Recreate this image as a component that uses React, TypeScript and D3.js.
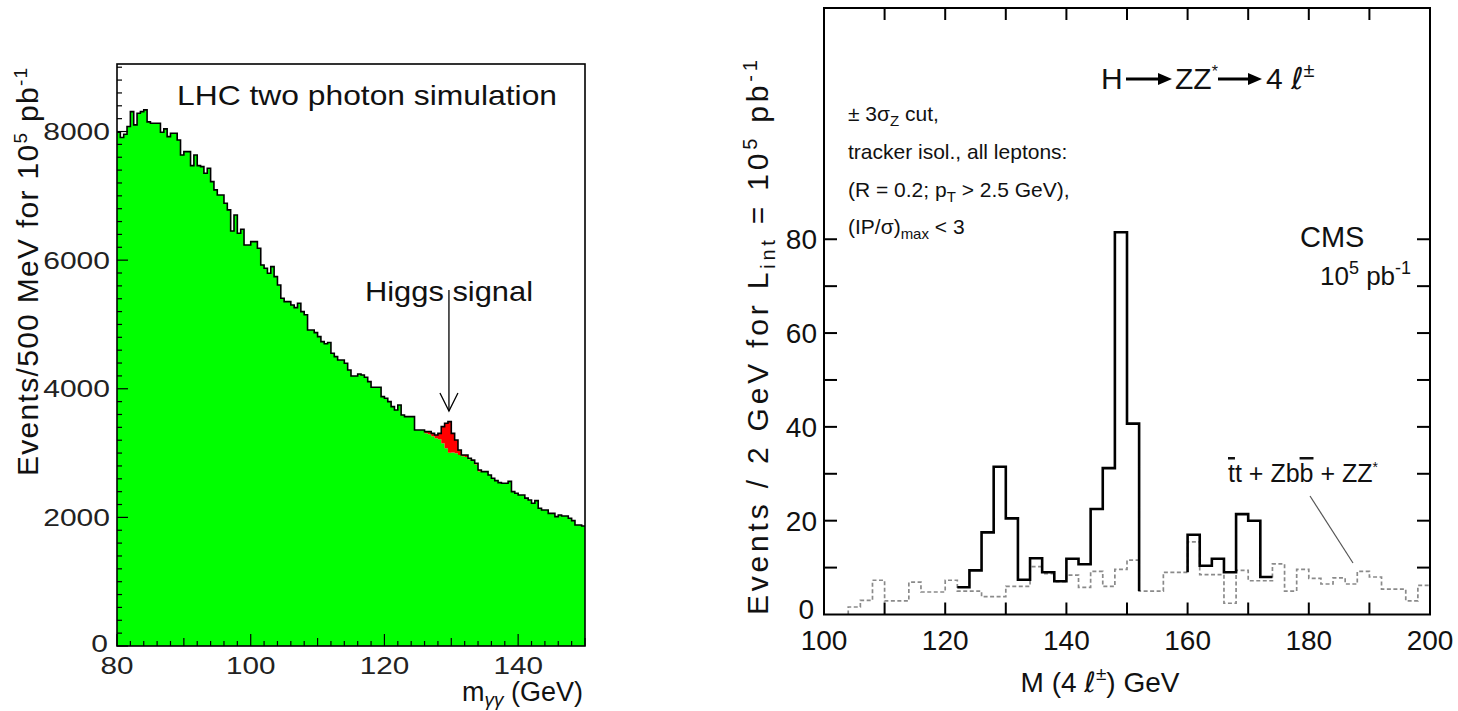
import React from "react";
import * as d3 from "d3";

const W = 1458;
const H = 711;

// ---------------- Left panel: LHC two photon simulation ----------------
const gammaMassRange: [number, number] = [80, 150];
const gammaBinWidth = 0.5;
// total events per 500 MeV bin (background + Higgs signal), bins from 80 GeV
const gammaEvents = [
  7990, 7906, 7958, 8077, 8310, 8103, 8284, 8310, 8336, 8150,
  8129, 8129, 8129, 7989, 8041, 7921, 7973, 7973, 7869, 7636,
  7688, 7688, 7470, 7636, 7470, 7454, 7351, 7429, 7221, 7092,
  7014, 7014, 6885, 6781, 6454, 6703, 6418, 6480, 6236, 6236,
  6288, 6288, 6185, 5925, 5873, 5796, 5899, 5744, 5614, 5407,
  5355, 5355, 5303, 5262, 5329, 5199, 5150, 4914, 4914, 4873,
  4811, 4733, 4700, 4720, 4552, 4500, 4448, 4448, 4396, 4292,
  4199, 4199, 4230, 4215, 4178, 4111, 4023, 4023, 4023, 3878,
  3852, 3800, 3722, 3670, 3748, 3593, 3567, 3567, 3567, 3359,
  3359, 3359, 3333, 3333, 3307, 3281, 3307, 3411, 3463, 3489,
  3307, 3204, 3048, 2970, 2970, 2919, 2890, 2841, 2737, 2711,
  2711, 2659, 2608, 2571, 2540, 2530, 2530, 2560, 2400, 2375,
  2348, 2348, 2300, 2271, 2219, 2260, 2141, 2115, 2115, 2063,
  2063, 2011, 2037, 2022, 2022, 1986, 1949, 1882, 1882, 1866,
];
const higgsSignalFirstBin = 92;
const higgsSignalEvents = [26, 40, 45, 50, 93, 259, 389, 483, 300, 208, 78, 20, 30, 15, 15, 20, 25];
const leftXTickLabels = [80, 100, 120, 140];
const leftYTickLabels = [0, 2000, 4000, 6000, 8000];
const higgsArrowMass = 129.65;

// ---------------- Right panel: H -> ZZ* -> 4 leptons ----------------
const zzMassRange: [number, number] = [100, 200];
const zzBinWidth = 2;
// tt + Zbb + ZZ* background per 2 GeV bin, bins from 100 GeV
const zzBackground = [
  0, 0, 1.6, 3.0, 7.3, 2.9, 2.9, 6.9, 4.8, 4.8,
  7.3, 5.0, 5.0, 3.8, 3.8, 6.0, 6.0, 10.2, 8.7, 7.0,
  8.4, 5.8, 9.2, 6.0, 9.6, 11.6, 5.0, 5.0, 9.0, 9.0,
  15.5, 8.5, 8.5, 2.4, 9.4, 7.2, 7.2, 10.8, 5.0, 9.6,
  7.7, 6.5, 7.8, 6.5, 9.2, 8.0, 5.4, 5.4, 2.9, 6.2,
];
const zzTotalLowStart = 122;
const zzTotalLow = [5.8, 9.4, 17.5, 31.5, 20.5, 7.4, 12.0, 9.0, 7.1, 11.9, 10.7, 22.5, 31.2, 81.5, 40.7];
const zzTotalHighStart = 160;
const zzTotalHigh = [17.0, 10.4, 11.9, 9.0, 21.4, 20.0, 8.0];
const rightXTickLabels = [100, 120, 140, 160, 180, 200];
const rightYTickLabels = [0, 20, 40, 60, 80];

const font = "'Liberation Sans', Arial, Helvetica, 'DejaVu Sans', sans-serif";

type P = [number, number];
function histPoints(start: number, width: number, values: number[]): P[] {
  const pts: P[] = values.map((v, i) => [start + i * width, v]);
  pts.push([start + values.length * width, values[values.length - 1]]);
  return pts;
}

function Arrow({ x1, x2, y }: { x1: number; x2: number; y: number }) {
  return (
    <g>
      <line x1={x1} x2={x2 - 10} y1={y} y2={y} stroke="#000" strokeWidth={3.2} />
      <polygon points={`${x2},${y} ${x2 - 14},${y - 6} ${x2 - 14},${y + 6}`} fill="#000" />
    </g>
  );
}

function LeftPanel() {
  const xL = d3.scaleLinear().domain(gammaMassRange).range([117, 585]);
  const yL = d3.scaleLinear().domain([0, 9050]).range([646, 64]);

  const signalAt = (i: number) => {
    const k = i - higgsSignalFirstBin;
    return k >= 0 && k < higgsSignalEvents.length ? higgsSignalEvents[k] : 0;
  };
  const bgValues = gammaEvents.map((v, i) => v - signalAt(i));

  const area = d3
    .area<P>()
    .x((d) => xL(d[0]))
    .y0(yL(0))
    .y1((d) => yL(d[1]))
    .curve(d3.curveStepAfter);
  const line = d3
    .line<P>()
    .x((d) => xL(d[0]))
    .y((d) => yL(d[1]))
    .curve(d3.curveStepAfter);

  type Q = [number, number, number];
  const redPts: Q[] = higgsSignalEvents.map((s, k) => {
    const i = higgsSignalFirstBin + k;
    return [gammaMassRange[0] + i * gammaBinWidth, bgValues[i], gammaEvents[i]];
  });
  const lastRed = higgsSignalFirstBin + higgsSignalEvents.length;
  redPts.push([gammaMassRange[0] + lastRed * gammaBinWidth, bgValues[lastRed - 1], gammaEvents[lastRed - 1]]);
  const redArea = d3
    .area<Q>()
    .x((d) => xL(d[0]))
    .y0((d) => yL(d[1]))
    .y1((d) => yL(d[2]))
    .curve(d3.curveStepAfter);

  const totalPts = histPoints(gammaMassRange[0], gammaBinWidth, gammaEvents);
  const bgPts = histPoints(gammaMassRange[0], gammaBinWidth, bgValues);

  const yMinor = d3.range(0, 9001, 200);
  const xMinor = d3.range(80, 150.01, 2);
  const ax = xL(higgsArrowMass);

  return (
    <g fontFamily={font}>
      <path d={area(bgPts) || ""} fill="#00ff00" />
      <path d={redArea(redPts) || ""} fill="#ff0000" />
      <path d={line(totalPts) || ""} fill="none" stroke="#000" strokeWidth={1.6} />
      <rect x={117} y={64} width={468} height={582} fill="none" stroke="#000" strokeWidth={1.6} />
      {yMinor.map((v) => (
        <line key={"ym" + v} x1={117} x2={117 + (v % 2000 === 0 ? 11 : 5)} y1={yL(v)} y2={yL(v)} stroke="#000" strokeWidth={1.2} />
      ))}
      {xMinor.map((v) => {
        const len = v % 20 === 0 ? 12 : v % 10 === 0 ? 8 : 5;
        return <line key={"xm" + v} x1={xL(v)} x2={xL(v)} y1={646} y2={646 - len} stroke="#000" strokeWidth={1.2} />;
      })}
      {leftYTickLabels.map((v) => (
        <text key={"yl" + v} x={v === 0 ? 108 : 110} y={yL(v) + (v === 0 ? 6 : 8.5)} fontSize={24} textAnchor="end" fill="#222"
          textLength={String(v).length * 16.7} lengthAdjust="spacingAndGlyphs">{v}</text>
      ))}
      {leftXTickLabels.map((v) => (
        <text key={"xl" + v} x={xL(v)} y={674} fontSize={24} textAnchor="middle" fill="#222"
          textLength={String(v).length * 16.5} lengthAdjust="spacingAndGlyphs">{v}</text>
      ))}
      <text x={177} y={105} fontSize={28} fill="#111" textLength={380} lengthAdjust="spacingAndGlyphs">LHC two photon simulation</text>
      <text x={365} y={301} fontSize={28} fill="#111" textLength={168} lengthAdjust="spacingAndGlyphs">Higgs signal</text>
      <line x1={ax} x2={ax} y1={290} y2={411} stroke="#000" strokeWidth={1.3} />
      <polyline points={`${ax - 9},${393} ${ax},${411} ${ax + 9},${393}`} fill="none" stroke="#000" strokeWidth={1.3} />
      <text transform="translate(38,476) rotate(-90)" fontSize={30} fill="#111" letterSpacing={1.3}>
        Events/500 MeV for 10<tspan dy={-11} fontSize={19}>5</tspan>
        <tspan dy={11}> pb</tspan>
        <tspan dy={-11} fontSize={19}>-1</tspan>
      </text>
      <text x={583} y={701} fontSize={27} textAnchor="end" fill="#111">
        m<tspan dy={5} fontSize={19} fontStyle="italic">γγ</tspan>
        <tspan dy={-5}> (GeV)</tspan>
      </text>
    </g>
  );
}

function RightPanel() {
  const xR = d3.scaleLinear().domain(zzMassRange).range([824, 1430]);
  const yR = d3.scaleLinear().domain([0, 129.3]).range([614.5, 8]);
  const line = d3
    .line<P>()
    .x((d) => xR(d[0]))
    .y((d) => yR(d[1]))
    .curve(d3.curveStepAfter);

  const bgIndex = (m: number) => Math.round((m - zzMassRange[0]) / zzBinWidth);
  const first = zzBackground.findIndex((v) => v > 0);
  const bgPts: P[] = [[zzMassRange[0] + first * zzBinWidth, 0], ...histPoints(zzMassRange[0] + first * zzBinWidth, zzBinWidth, zzBackground.slice(first))];

  const lowEnd = zzTotalLowStart + zzTotalLow.length * zzBinWidth;
  const lowPts: P[] = [...histPoints(zzTotalLowStart, zzBinWidth, zzTotalLow), [lowEnd, zzBackground[bgIndex(lowEnd)]]];
  const highPts: P[] = [[zzTotalHighStart, zzBackground[bgIndex(zzTotalHighStart) - 1]], ...histPoints(zzTotalHighStart, zzBinWidth, zzTotalHigh)];

  const xt = d3.range(110, 200, 10);
  const yt = d3.range(10, 81, 10);

  return (
    <g fontFamily={font}>
      <path d={line(bgPts) || ""} fill="none" stroke="#8a8a8a" strokeWidth={1.7} strokeDasharray="4 2.5" />
      <path d={line(lowPts) || ""} fill="none" stroke="#000" strokeWidth={2.6} />
      <path d={line(highPts) || ""} fill="none" stroke="#000" strokeWidth={2.6} />
      <rect x={824} y={8} width={606} height={606.5} fill="none" stroke="#000" strokeWidth={2} />
      {xt.map((v) => (
        <g key={"xt" + v}>
          <line x1={xR(v)} x2={xR(v)} y1={614.5} y2={602.5} stroke="#000" strokeWidth={2} />
          <line x1={xR(v)} x2={xR(v)} y1={8} y2={20} stroke="#000" strokeWidth={2} />
        </g>
      ))}
      {yt.map((v) => (
        <g key={"yt" + v}>
          <line x1={824} x2={837} y1={yR(v)} y2={yR(v)} stroke="#000" strokeWidth={2} />
          <line x1={1430} x2={1417} y1={yR(v)} y2={yR(v)} stroke="#000" strokeWidth={2} />
        </g>
      ))}
      {rightYTickLabels.map((v) => (
        <text key={"ryl" + v} x={v === 0 ? 814 : 817} y={yR(v) + (v === 0 ? 4 : 10)} fontSize={28} textAnchor="end" fill="#111">{v}</text>
      ))}
      {rightXTickLabels.map((v) => (
        <text key={"rxl" + v} x={xR(v)} y={650} fontSize={28} textAnchor="middle" fill="#111">{v}</text>
      ))}
      <text transform="translate(768,615) rotate(-90)" fontSize={30} fill="#111" letterSpacing={3.8}>
        Events / 2 GeV for L<tspan dy={7} fontSize={20}>int</tspan>
        <tspan dy={-7}> = 10</tspan>
        <tspan dy={-11} fontSize={20}>5</tspan>
        <tspan dy={11}> pb</tspan>
        <tspan dy={-11} fontSize={20}>-1</tspan>
      </text>
      <text x={1100} y={692} fontSize={28} textAnchor="middle" fill="#111">
        M (4 <tspan fontStyle="italic" fontFamily="'DejaVu Sans', sans-serif">ℓ</tspan>
        <tspan dy={-12} fontSize={19}>±</tspan>
        <tspan dy={12}>)  GeV</tspan>
      </text>

      {/* decay label */}
      <text x={1101} y={89} fontSize={30} fill="#111">H</text>
      <Arrow x1={1126} x2={1172} y={79} />
      <text x={1175} y={89} fontSize={30} fill="#111">
        ZZ<tspan dy={-12} fontSize={16}>*</tspan>
      </text>
      <Arrow x1={1218} x2={1262} y={79} />
      <text x={1266} y={89} fontSize={30} fill="#111">
        4 <tspan fontStyle="italic" fontFamily="'DejaVu Sans', sans-serif">ℓ</tspan>
        <tspan dy={-12} fontSize={20}>±</tspan>
      </text>

      {/* cuts */}
      <text x={848} y={121} fontSize={21} fill="#111">
        ± 3σ<tspan dy={5} fontSize={15}>Z</tspan>
        <tspan dy={-5}> cut,</tspan>
      </text>
      <text x={848} y={159} fontSize={21} fill="#111">tracker isol., all leptons:</text>
      <text x={848} y={197} fontSize={21} fill="#111">
        (R = 0.2;  p<tspan dy={5} fontSize={15}>T</tspan>
        <tspan dy={-5}> &gt; 2.5 GeV),</tspan>
      </text>
      <text x={848} y={234} fontSize={21} fill="#111">
        (IP/σ)<tspan dy={5} fontSize={15}>max</tspan>
        <tspan dy={-5}> &lt; 3</tspan>
      </text>

      <text x={1300} y={247} fontSize={29} fill="#111">CMS</text>
      <text x={1320} y={285} fontSize={26} fill="#111">
        10<tspan dy={-11} fontSize={18}>5</tspan>
        <tspan dy={11}> pb</tspan>
        <tspan dy={-11} fontSize={18}>-1</tspan>
      </text>

      <text x={1228} y={482} fontSize={25} fill="#111">
        <tspan style={{ textDecoration: "overline" }}>t</tspan>t + Zb
        <tspan style={{ textDecoration: "overline" }}>b</tspan> + ZZ
        <tspan dy={-10} fontSize={14}>*</tspan>
      </text>
      <line x1={1310} y1={496} x2={1353} y2={563} stroke="#555" strokeWidth={1.2} />
    </g>
  );
}

export default function App() {
  return (
    <svg width={W} height={H} viewBox={`0 0 ${W} ${H}`} style={{ position: "absolute", left: 0, top: 0, background: "#fff" }}>
      <rect x={0} y={0} width={W} height={H} fill="#fff" />
      <LeftPanel />
      <RightPanel />
    </svg>
  );
}
